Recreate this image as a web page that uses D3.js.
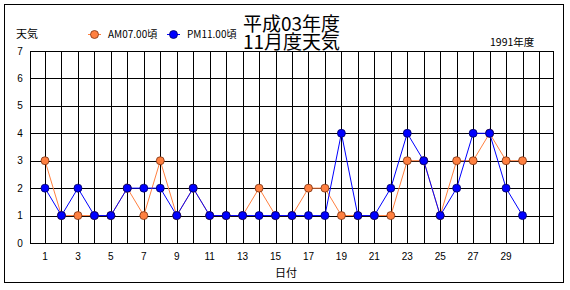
<!DOCTYPE html>
<html lang="ja">
  <head>
    <meta charset="utf-8">
    <style>
      body { margin: 0; background: #fff; }
      text { font-family: "Liberation Sans", Arial, sans-serif; font-size: 10px; fill: #000; }
      .jp { font-family: "Noto Sans CJK JP", sans-serif; }
      .grid line { stroke: #000; stroke-width: 1; shape-rendering: crispEdges; }
    </style>
  </head>
  <body>
    <script src="https://cdn.jsdelivr.net/npm/d3@7"></script>
    <script>
      // days of the month and the two readings (weather code)
      var days = d3.range(1, 31);
      var am = [3,1,1,1,1,2,1,3,1,2,1,1,1,2,1,1,2,2,1,1,1,1,3,3,1,3,3,4,3,3];
      var pm = [2,1,2,1,1,2,2,2,1,2,1,1,1,1,1,1,1,1,4,1,1,2,4,3,1,2,4,4,2,1];
      var yTicks = [0,1,2,3,4,5,6,7];
      var xTicks = [1,3,5,7,9,11,13,15,17,19,21,23,25,27,29];
      var gridDays = d3.range(1, 32);

      var W = 570, H = 290;
      var pLeft = 30, pRight = 553, pTop = 51, pBottom = 243;

      var svg = d3.select("body").append("svg")
        .attr("width", W).attr("height", H);

      // outer frame
      svg.append("rect")
        .attr("x", 4.5).attr("y", 4.5).attr("width", 559).attr("height", 278)
        .attr("fill", "none").attr("stroke", "#000");

      var x = d3.scaleLinear().domain([1, 31]).range([45, 539]);
      var y = d3.scaleLinear().domain([0, 7]).range([pBottom, pTop]);

      // grid
      var grid = svg.append("g").attr("class", "grid");
      grid.selectAll(".h").data(yTicks).enter().append("line")
        .attr("x1", pLeft).attr("x2", pRight + 1)
        .attr("y1", function(d) { return Math.round(y(d)) + 0.5; })
        .attr("y2", function(d) { return Math.round(y(d)) + 0.5; });
      grid.selectAll(".v").data(gridDays).enter().append("line")
        .attr("x1", function(d) { return Math.round(x(d)) + 0.5; })
        .attr("x2", function(d) { return Math.round(x(d)) + 0.5; })
        .attr("y1", pTop).attr("y2", pBottom + 1);
      grid.append("line").attr("x1", pLeft + 0.5).attr("x2", pLeft + 0.5).attr("y1", pTop).attr("y2", pBottom + 1);
      grid.append("line").attr("x1", pRight + 0.5).attr("x2", pRight + 0.5).attr("y1", pTop).attr("y2", pBottom + 1);

      // tick labels
      svg.selectAll(".yl").data(yTicks).enter().append("text")
        .attr("x", 20).attr("y", function(d) { return y(d); })
        .attr("dy", "0.35em").attr("text-anchor", "middle")
        .text(function(d) { return d; });
      svg.selectAll(".xl").data(xTicks).enter().append("text")
        .attr("x", function(d) { return x(d); }).attr("y", 260)
        .attr("text-anchor", "middle")
        .text(function(d) { return d; });

      // series
      function draw(vals, lineCol, fill, edge) {
        var pts = days.map(function(d, i) { return [d, vals[i]]; });
        svg.append("path").datum(pts)
          .attr("fill", "none").attr("stroke", lineCol).attr("stroke-width", 1)
          .attr("d", d3.line().x(function(d) { return x(d[0]); }).y(function(d) { return y(d[1]); }));
        svg.selectAll(null).data(pts).enter().append("circle")
          .attr("cx", function(d) { return x(d[0]); })
          .attr("cy", function(d) { return y(d[1]); })
          .attr("r", 4).attr("fill", fill).attr("stroke", edge).attr("stroke-width", 0.8);
      }
      draw(am, "#ff8040", "#ff8040", "#7a3010");
      draw(pm, "#0000ff", "#0000ff", "#000060");

      // title, two lines in one text element
      var title = svg.append("text").attr("class", "jp").attr("y", 31)
        .style("font-size", "19px");
      title.append("tspan").attr("x", 243).text("平成03年度");
      title.append("tspan").attr("x", 243).attr("dy", 18).text("11月度天気");

      svg.append("text").attr("class", "jp").attr("x", 16).attr("y", 38)
        .style("font-size", "11px").text("天気");
      svg.append("text").attr("class", "jp").attr("x", 286).attr("y", 277)
        .attr("text-anchor", "middle").style("font-size", "11px").text("日付");
      svg.append("text").attr("class", "jp").attr("x", 490).attr("y", 46)
        .style("font-size", "10.5px").text("1991年度");

      // legend
      var legend = [
        { name: "AM07.00頃", col: "#ff8040", edge: "#7a3010", x: 88 },
        { name: "PM11.00頃", col: "#0000ff", edge: "#000060", x: 167 }
      ];
      legend.forEach(function(l) {
        svg.append("line").attr("x1", l.x).attr("x2", l.x + 13)
          .attr("y1", 34.5).attr("y2", 34.5).attr("stroke", l.col);
        svg.append("circle").attr("cx", l.x + 6.5).attr("cy", 34.5).attr("r", 4)
          .attr("fill", l.col).attr("stroke", l.edge).attr("stroke-width", 0.8);
        svg.append("text").attr("class", "jp").attr("x", l.x + 20).attr("y", 38)
          .style("font-size", "10px").text(l.name);
      });
    </script>
  </body>
</html>
